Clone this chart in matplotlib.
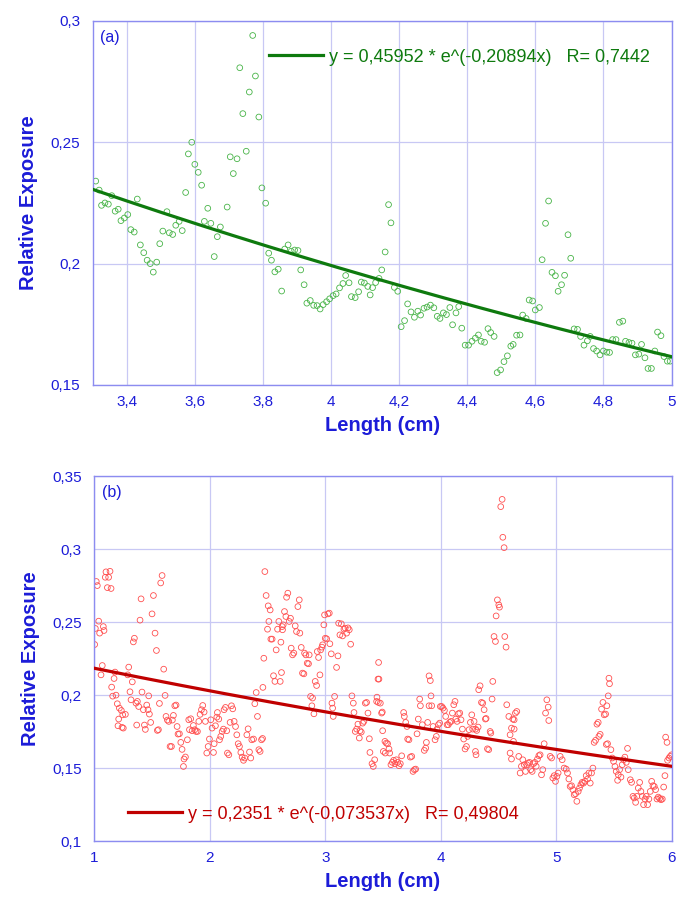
import matplotlib

matplotlib.use("Agg")

import matplotlib.pyplot as plt
import numpy as np
from matplotlib.ticker import FuncFormatter, MultipleLocator

plt.rcParams["font.family"] = ["Liberation Sans", "DejaVu Sans"]

# ---- panel (a) data: Length (cm) vs Relative Exposure ----
xa = [3.309, 3.319, 3.326, 3.336, 3.346, 3.356, 3.366, 3.375, 3.383, 3.393,
      3.403, 3.412, 3.422, 3.431, 3.44, 3.45, 3.46, 3.469, 3.478, 3.488,
      3.497, 3.506, 3.518, 3.525, 3.535, 3.544, 3.554, 3.563, 3.573, 3.581,
      3.591, 3.6, 3.61, 3.62, 3.628, 3.638, 3.647, 3.657, 3.666, 3.675,
      3.695, 3.704, 3.713, 3.724, 3.732, 3.741, 3.751, 3.76, 3.77, 3.778,
      3.788, 3.797, 3.808, 3.817, 3.825, 3.835, 3.845, 3.855, 3.864, 3.874,
      3.883, 3.893, 3.903, 3.911, 3.921, 3.929, 3.939, 3.949, 3.959, 3.968,
      3.977, 3.987, 3.996, 4.006, 4.015, 4.025, 4.035, 4.043, 4.053, 4.06,
      4.071, 4.081, 4.089, 4.098, 4.108,
      4.115, 4.122, 4.131, 4.141, 4.149, 4.159, 4.169, 4.176, 4.186, 4.196,
      4.206, 4.216, 4.225, 4.235, 4.245, 4.255, 4.263, 4.273, 4.282, 4.292,
      4.302, 4.312, 4.32, 4.33, 4.339, 4.349, 4.357, 4.367, 4.375, 4.384,
      4.394, 4.404, 4.414, 4.424, 4.433, 4.441, 4.451, 4.461, 4.469, 4.479,
      4.488, 4.498, 4.508, 4.518, 4.528, 4.535, 4.545, 4.555, 4.563, 4.573,
      4.582, 4.592, 4.6, 4.612, 4.62, 4.63, 4.639, 4.649, 4.659, 4.667,
      4.677, 4.686, 4.696, 4.704, 4.714, 4.724, 4.733, 4.743, 4.753, 4.761,
      4.771, 4.78, 4.79, 4.8, 4.81, 4.818, 4.827, 4.837, 4.847, 4.857,
      4.865, 4.875, 4.884, 4.894, 4.904, 4.912, 4.922, 4.931, 4.941, 4.951,
      4.959, 4.969, 4.978, 4.988, 4.996]
ya = [0.234, 0.2303, 0.224, 0.225, 0.2245, 0.228, 0.2216, 0.2224, 0.2177, 0.2188,
      0.2202, 0.214, 0.213, 0.2266, 0.2077, 0.2045, 0.2014, 0.2, 0.1965, 0.2006,
      0.2082, 0.2134, 0.2214, 0.2127, 0.212, 0.2158, 0.2174, 0.2136, 0.2293, 0.2452,
      0.25, 0.2409, 0.2376, 0.2323, 0.2174, 0.2228, 0.2166, 0.2029, 0.2111, 0.2151,
      0.2233, 0.244, 0.2371, 0.2432, 0.2807, 0.2618, 0.2463, 0.2707, 0.294, 0.2773,
      0.2604, 0.2312, 0.2249, 0.2043, 0.2014, 0.1966, 0.1977, 0.1887, 0.206, 0.2077,
      0.2051, 0.2056, 0.2054, 0.1974, 0.1913, 0.1837, 0.1848, 0.1828, 0.1827, 0.1813,
      0.1831, 0.1843, 0.1855, 0.1868, 0.1875, 0.19, 0.1918, 0.1951, 0.1921, 0.1864,
      0.186, 0.1884, 0.1924, 0.192, 0.1906,
      0.1871, 0.1901, 0.1922, 0.1939, 0.1974, 0.2048, 0.2243, 0.2168, 0.1902, 0.1886,
      0.174, 0.1765, 0.1834, 0.1801, 0.1779, 0.1804, 0.1788, 0.1816, 0.1821, 0.1829,
      0.1818, 0.1783, 0.1774, 0.1797, 0.179, 0.1819, 0.1748, 0.1797, 0.1823, 0.1734,
      0.1664, 0.1664, 0.168, 0.1693, 0.1706, 0.168, 0.1676, 0.1732, 0.1716, 0.17,
      0.1551, 0.1562, 0.1596, 0.162, 0.166, 0.1667, 0.1705, 0.1706, 0.1788, 0.1774,
      0.185, 0.1846, 0.1809, 0.1819, 0.2016, 0.2166, 0.2258, 0.1964, 0.195, 0.1886,
      0.1913, 0.1952, 0.2119, 0.2022, 0.1731, 0.1729, 0.17, 0.1664, 0.1682, 0.17,
      0.165, 0.164, 0.1624, 0.164, 0.1635, 0.1634, 0.1687, 0.1687, 0.1758, 0.1763,
      0.168, 0.1675, 0.1672, 0.1624, 0.1627, 0.1667, 0.1612, 0.1568, 0.1568, 0.164,
      0.1718, 0.1703, 0.1617, 0.1598, 0.1598]
fit_a = (0.45952, -0.20894, "0,45952", "-0,20894", "0,7442")

# ---- panel (b) data ----
xb = [1.003, 1.009, 1.017, 1.026, 1.038, 1.046, 1.058, 1.069, 1.078, 1.084,
      1.095, 1.101, 1.113, 1.124, 1.136, 1.145, 1.150, 1.159, 1.171, 1.179,
      1.188, 1.199, 1.205, 1.211, 1.217, 1.234, 1.240, 1.246, 1.251, 1.269,
      1.289, 1.298, 1.309, 1.318, 1.329, 1.338, 1.347, 1.361, 1.367, 1.373,
      1.384, 1.396, 1.405, 1.413, 1.425, 1.434, 1.442, 1.454, 1.465, 1.471,
      1.477, 1.488, 1.500, 1.512, 1.526, 1.538, 1.546, 1.555, 1.564, 1.575,
      1.587, 1.601, 1.613, 1.621, 1.633, 1.645, 1.656, 1.668, 1.676, 1.685,
      1.697, 1.708, 1.717, 1.725, 1.737, 1.749, 1.760, 1.772, 1.777, 1.789,
      1.806, 1.818, 1.824, 1.835, 1.847, 1.858, 1.870, 1.881, 1.893, 1.905,
      1.916, 1.928, 1.939, 1.951, 1.962, 1.974, 1.986, 1.997, 2.009, 2.020,
      2.032, 2.038, 2.049, 2.061, 2.066, 2.078, 2.084, 2.095, 2.107, 2.118,
      2.124, 2.136, 2.147, 2.153, 2.165, 2.176, 2.188, 2.199, 2.211, 2.223,
      2.234, 2.246, 2.257, 2.269, 2.280, 2.292, 2.303, 2.321, 2.332, 2.344,
      2.355, 2.364, 2.379, 2.390, 2.402, 2.413, 2.425, 2.436, 2.448, 2.457,
      2.460, 2.468, 2.477, 2.488, 2.500, 2.506, 2.512, 2.523, 2.529, 2.540,
      2.552, 2.564, 2.575, 2.587, 2.598, 2.610, 2.616, 2.621, 2.627, 2.630,
      2.636, 2.647, 2.659, 2.665, 2.676, 2.688, 2.699, 2.705, 2.717, 2.728,
      2.740, 2.751, 2.763, 2.775, 2.780, 2.792, 2.803, 2.815, 2.821, 2.832,
      2.844, 2.855, 2.861, 2.873, 2.884, 2.890, 2.902, 2.913, 2.925, 2.931,
      2.942, 2.954, 2.960, 2.971, 2.977, 2.988, 2.994, 3.000, 3.012, 3.023,
      3.035, 3.040, 3.052, 3.058, 3.064, 3.069, 3.081, 3.098, 3.110, 3.116,
      3.127, 3.139, 3.150, 3.162, 3.173, 3.185, 3.197, 3.208, 3.220, 3.231,
      3.243, 3.249, 3.260, 3.272, 3.283, 3.295, 3.301, 3.312, 3.324, 3.335,
      3.347, 3.358, 3.370, 3.382, 3.387, 3.405, 3.416, 3.428, 3.445, 3.457,
      3.462, 3.448, 3.460, 3.465, 3.477, 3.488, 3.494, 3.497, 3.503, 3.517,
      3.520, 3.529, 3.540, 3.552, 3.558, 3.569, 3.581, 3.592, 3.604, 3.616,
      3.627, 3.639, 3.650, 3.662, 3.679, 3.685, 3.697, 3.708, 3.714, 3.725,
      3.737, 3.749, 3.760, 3.772, 3.783, 3.795, 3.806, 3.818, 3.824, 3.841,
      3.858, 3.870, 3.876, 3.887, 3.899, 3.899, 3.910, 3.916, 3.922, 3.934,
      3.951, 3.962, 3.968, 3.980, 3.991, 3.997, 4.009, 4.020, 4.032, 4.043,
      4.055, 4.066, 4.078, 4.090, 4.101, 4.113, 4.124, 4.130, 4.142, 4.153,
      4.165, 4.176, 4.188, 4.199, 4.211, 4.223, 4.234, 4.246, 4.257, 4.269,
      4.277, 4.289, 4.301, 4.301, 4.306, 4.312, 4.324, 4.329, 4.341, 4.353,
      4.364, 4.376, 4.387, 4.393, 4.405, 4.416, 4.428, 4.434, 4.445, 4.451,
      4.462, 4.474, 4.480, 4.491, 4.503, 4.509, 4.520, 4.532, 4.538, 4.549,
      4.555, 4.566, 4.572, 4.590, 4.601, 4.601, 4.613, 4.613, 4.624, 4.630,
      4.636, 4.636, 4.647, 4.659, 4.676, 4.688, 4.699, 4.711, 4.723, 4.734,
      4.746, 4.757, 4.769, 4.780, 4.792, 4.803, 4.815, 4.827, 4.838, 4.850,
      4.861, 4.873, 4.884, 4.896, 4.908, 4.919, 4.931, 4.936, 4.948, 4.960,
      4.971, 4.983, 4.994, 5.006, 5.017, 5.035, 5.052, 5.069, 5.087, 5.098,
      5.110, 5.121, 5.133, 5.145, 5.156, 5.168, 5.179, 5.191, 5.202, 5.214,
      5.225, 5.237, 5.249, 5.260, 5.272, 5.283, 5.295, 5.306, 5.318, 5.329,
      5.341, 5.353, 5.364, 5.370, 5.381, 5.393, 5.405, 5.416, 5.428, 5.434,
      5.439, 5.445, 5.451, 5.457, 5.462, 5.474, 5.486, 5.497, 5.509, 5.520,
      5.532, 5.538, 5.549, 5.561, 5.572, 5.584, 5.595, 5.607, 5.618, 5.624,
      5.642, 5.653, 5.665, 5.676, 5.688, 5.699, 5.711, 5.723, 5.734, 5.746,
      5.757, 5.769, 5.780, 5.792, 5.803, 5.815, 5.827, 5.838, 5.850, 5.861,
      5.873, 5.884, 5.896, 5.908, 5.919, 5.931, 5.942, 5.948, 5.960, 5.965,
      5.977, 5.988, 6.000]
yb = [0.2347, 0.2457, 0.2779, 0.2751, 0.2507, 0.2425, 0.2139, 0.2203, 0.2470, 0.2443,
      0.2808, 0.2845, 0.2737, 0.2808, 0.2849, 0.2731, 0.2055, 0.1993, 0.2114, 0.2158,
      0.2000, 0.1941, 0.1790, 0.1836, 0.1911, 0.1895, 0.1779, 0.1865, 0.1774, 0.1868,
      0.2139, 0.2192, 0.2023, 0.1968, 0.2091, 0.2365, 0.2390, 0.1945, 0.1795, 0.1957,
      0.1922, 0.2514, 0.2660, 0.2021, 0.1900, 0.1795, 0.1765, 0.1932, 0.1900, 0.1995,
      0.1870, 0.1813, 0.2557, 0.2683, 0.2425, 0.2306, 0.1758, 0.1763, 0.1943, 0.2769,
      0.2820, 0.2178, 0.1998, 0.1854, 0.1829, 0.1820, 0.1648, 0.1648, 0.1829, 0.1861,
      0.1927, 0.1932, 0.1785, 0.1733, 0.1735, 0.1676, 0.1628, 0.1511, 0.1562, 0.1576,
      0.1694, 0.1831, 0.1763, 0.1838, 0.1756, 0.1792, 0.1763, 0.1751, 0.1751, 0.1820,
      0.1868, 0.1900, 0.1929, 0.1884, 0.1820, 0.1603, 0.1648, 0.1699, 0.1831, 0.1774,
      0.1607, 0.1667, 0.1790, 0.1849, 0.1881, 0.1836, 0.1694, 0.1717, 0.1751, 0.1767,
      0.1900, 0.1916, 0.1756, 0.1603, 0.1591, 0.1813, 0.1927, 0.1906, 0.1820, 0.1785,
      0.1728, 0.1667, 0.1648, 0.1607, 0.1575, 0.1553, 0.1569, 0.1728, 0.1769, 0.1610,
      0.1569, 0.1694, 0.1699, 0.1941, 0.2018, 0.1854, 0.1626, 0.1614, 0.1694, 0.1703,
      0.2053, 0.2253, 0.2847, 0.2683, 0.2452, 0.2612, 0.2505, 0.2584, 0.2384, 0.2384,
      0.2133, 0.2094, 0.2310, 0.2452, 0.2505, 0.2094, 0.2363, 0.2155, 0.2470, 0.2448,
      0.2482, 0.2573, 0.2539, 0.2671, 0.2699, 0.2505, 0.2527, 0.2322, 0.2276, 0.2288,
      0.2475, 0.2436, 0.2607, 0.2653, 0.2425, 0.2327, 0.2151, 0.2146, 0.2288, 0.2276,
      0.2219, 0.2215, 0.2276, 0.1991, 0.1927, 0.1980, 0.1872, 0.2094, 0.2066, 0.2299,
      0.2258, 0.2139, 0.2310, 0.2329, 0.2345, 0.2482, 0.2550, 0.2390, 0.2386, 0.2557,
      0.2562, 0.2352, 0.2283, 0.1945, 0.1911, 0.1854, 0.1991, 0.2190, 0.2269, 0.2493,
      0.2413, 0.2489, 0.2406, 0.2452, 0.2459, 0.2425, 0.2461, 0.2448, 0.2349, 0.1995,
      0.1945, 0.1881, 0.1751, 0.1767, 0.1801, 0.1706, 0.1756, 0.1747, 0.1808, 0.1820,
      0.1945, 0.1950, 0.1877, 0.1701, 0.1607, 0.1530, 0.1511, 0.1557, 0.1957, 0.2110,
      0.2224, 0.1986, 0.1950, 0.2110, 0.1945, 0.1877, 0.1884, 0.1756, 0.1614, 0.1683,
      0.1603, 0.1671, 0.1667, 0.1631, 0.1603, 0.1523, 0.1539, 0.1553, 0.1530, 0.1557,
      0.1539, 0.1516, 0.1530, 0.1584, 0.1881, 0.1854, 0.1813, 0.1785, 0.1699, 0.1694,
      0.1575, 0.1580, 0.1477, 0.1489, 0.1493, 0.1735, 0.1836, 0.1973, 0.1927, 0.1797,
      0.1621, 0.1637, 0.1676, 0.1813, 0.2132, 0.1927, 0.2100, 0.1995, 0.1927, 0.1785,
      0.1694, 0.1717, 0.1767, 0.1797, 0.1808, 0.1922, 0.1922, 0.1911, 0.1895, 0.1854,
      0.1797, 0.1797, 0.1813, 0.1820, 0.1877, 0.1934, 0.1957, 0.1836, 0.1820, 0.1872,
      0.1877, 0.1831, 0.1767, 0.1699, 0.1631, 0.1648, 0.1717, 0.1763, 0.1813, 0.1865,
      0.1767, 0.1820, 0.1767, 0.1614, 0.1591, 0.1758, 0.1781, 0.2037, 0.2064, 0.1950,
      0.1945, 0.1900, 0.1836, 0.1840, 0.1632, 0.1626, 0.1751, 0.1740, 0.1973, 0.2094,
      0.2402, 0.2368, 0.2543, 0.2653, 0.2619, 0.2603, 0.3292, 0.3342, 0.3082, 0.3011,
      0.2402, 0.2329, 0.1934, 0.1854, 0.1728, 0.1603, 0.1774, 0.1562, 0.1836, 0.1683,
      0.1831, 0.1767, 0.1877, 0.1888, 0.1580, 0.1466, 0.1512, 0.1557, 0.1523, 0.1477,
      0.1523, 0.1534, 0.1539, 0.1489, 0.1477, 0.1530, 0.1539, 0.1512, 0.1562, 0.1585,
      0.1591, 0.1454, 0.1489, 0.1667, 0.1877, 0.1968, 0.1918, 0.1826, 0.1580, 0.1569,
      0.1432, 0.1448, 0.1409, 0.1443, 0.1466, 0.1580, 0.1557, 0.1500, 0.1493, 0.1466,
      0.1425, 0.1374, 0.1379, 0.1352, 0.1317, 0.1324, 0.1272, 0.1340, 0.1363, 0.1386,
      0.1402, 0.1397, 0.1409, 0.1448, 0.1425, 0.1466, 0.1397, 0.1466, 0.1500, 0.1676,
      0.1690, 0.1801, 0.1813, 0.1717, 0.1731, 0.1904, 0.1950, 0.1865, 0.1870, 0.1662,
      0.1927, 0.1667, 0.1995, 0.2116, 0.2078, 0.1626, 0.1569, 0.1546, 0.1511, 0.1477,
      0.1416, 0.1454, 0.1489, 0.1438, 0.1523, 0.1557, 0.1575, 0.1539, 0.1635, 0.1489,
      0.1420, 0.1402, 0.1306, 0.1295, 0.1265, 0.1306, 0.1363, 0.1402, 0.1340, 0.1306,
      0.1249, 0.1288, 0.1306, 0.1249, 0.1288, 0.1340, 0.1409, 0.1379, 0.1374, 0.1352,
      0.1288, 0.1301, 0.1292, 0.1283, 0.1288, 0.1370, 0.1448, 0.1712, 0.1676, 0.1553,
      0.1569, 0.1580, 0.1591]
fit_b = (0.2351, -0.073537, "0,2351", "-0,073537", "0,49804")

BLUE_TXT = "#1c1cd8"
SPINE = "#8c8cf0"
GRID = "#c8c8f4"


def comma(v, pos):
    return ("%g" % v).replace(".", ",")


def style_axes(ax, xlim, ylim, xstep, ystep, tag):
    ax.set_xlim(*xlim)
    ax.set_ylim(*ylim)
    ax.xaxis.set_major_locator(MultipleLocator(xstep))
    ax.yaxis.set_major_locator(MultipleLocator(ystep))
    ax.xaxis.set_major_formatter(FuncFormatter(comma))
    ax.yaxis.set_major_formatter(FuncFormatter(comma))
    ax.tick_params(length=0, labelsize=11, labelcolor=BLUE_TXT)
    ax.tick_params(axis="x", pad=7)
    ax.tick_params(axis="y", pad=9)
    ax.grid(True, color=GRID, linewidth=0.9)
    ax.set_axisbelow(True)
    for s in ax.spines.values():
        s.set_color(SPINE)
        s.set_linewidth(1.0)
    ax.set_xlabel("Length (cm)", fontsize=14.5, fontweight="bold", color=BLUE_TXT, labelpad=5)
    ax.set_ylabel("Relative Exposure", fontsize=14.5, fontweight="bold", color=BLUE_TXT, labelpad=9)
    ax.text(0.013, 0.975, tag, transform=ax.transAxes, ha="left", va="top",
            fontsize=11.5, color=BLUE_TXT)


def fit_label(fit):
    return "y = %s * e^(%sx)   R= %s" % (fit[2], fit[3], fit[4])


fig = plt.figure(figsize=(6.8, 9.09), dpi=100)
ax_a = fig.add_axes([0.1363, 0.5765, 0.8512, 0.4005])
ax_b = fig.add_axes([0.1387, 0.0748, 0.8490, 0.4012])

# panel (a)
ax_a.scatter(xa, ya, s=17, facecolors="none", edgecolors="#48b448", linewidths=0.6, zorder=2)
xx = np.linspace(3.3, 5.0, 200)
ax_a.plot(xx, fit_a[0] * np.exp(fit_a[1] * xx), color="#0e7a0e", linewidth=2.3, zorder=3,
          label=fit_label(fit_a))
style_axes(ax_a, (3.3, 5.0), (0.15, 0.3), 0.2, 0.05, "(a)")
ax_a.legend(loc="center left", bbox_to_anchor=(0.292, 0.90), frameon=False, handlelength=3.0,
            handletextpad=0.35, fontsize=13, labelcolor="linecolor", borderaxespad=0)

# panel (b)
ax_b.scatter(xb, yb, s=17, facecolors="none", edgecolors="#ff4f4f", linewidths=0.6, zorder=2)
xx = np.linspace(1.0, 6.0, 200)
ax_b.plot(xx, fit_b[0] * np.exp(fit_b[1] * xx), color="#c00000", linewidth=2.3, zorder=3,
          label=fit_label(fit_b))
style_axes(ax_b, (1.0, 6.0), (0.1, 0.35), 1, 0.05, "(b)")
ax_b.legend(loc="center left", bbox_to_anchor=(0.045, 0.074), frameon=False, handlelength=3.0,
            handletextpad=0.35, fontsize=13, labelcolor="linecolor", borderaxespad=0)

fig.savefig("out.png", dpi=100)
